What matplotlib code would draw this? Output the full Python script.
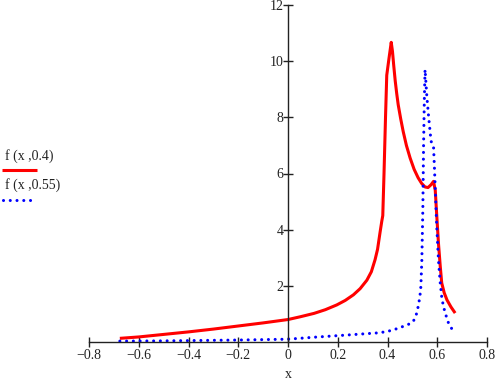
# -*- coding: utf-8 -*-
import matplotlib
matplotlib.use('Agg')
import matplotlib.pyplot as plt
from matplotlib.lines import Line2D

plt.rcParams['font.family'] = ['Liberation Serif', 'DejaVu Serif']

# f(x, 0.4)
red_x = [-0.676, -0.6, -0.5, -0.4, -0.3, -0.2, -0.1, 0.0, 0.05, 0.105, 0.15,
         0.196, 0.23, 0.263, 0.29, 0.317, 0.335, 0.35, 0.36, 0.37, 0.377,
         0.381, 0.386, 0.392, 0.397, 0.406, 0.415, 0.42, 0.425, 0.431, 0.437,
         0.443, 0.453, 0.463, 0.476, 0.491, 0.507, 0.523, 0.537, 0.551, 0.563,
         0.575, 0.585, 0.592, 0.598, 0.605, 0.612, 0.618, 0.628, 0.639, 0.655,
         0.672]
red_y = [0.13, 0.18, 0.27, 0.36, 0.46, 0.57, 0.68, 0.8, 0.9, 1.02, 1.15,
         1.32, 1.48, 1.68, 1.9, 2.2, 2.5, 2.93, 3.3, 3.9, 4.3,
         4.5, 6.0, 8.0, 9.5, 10.1, 10.67, 10.35, 9.85, 9.3, 8.85,
         8.45, 7.95, 7.5, 7.0, 6.55, 6.15, 5.85, 5.65, 5.52, 5.5,
         5.6, 5.72, 5.4, 4.5, 3.5, 2.7, 2.1, 1.75, 1.5, 1.25,
         1.03]

# f(x, 0.55)
blue_x = [-0.676, -0.5, -0.4, -0.2, 0.0, 0.105, 0.24, 0.37, 0.41, 0.444, 0.47,
          0.49, 0.503, 0.515, 0.523, 0.53, 0.534, 0.538, 0.542, 0.545, 0.548,
          0.551, 0.558, 0.565, 0.575, 0.585, 0.589, 0.594, 0.598, 0.605, 0.612,
          0.618, 0.625, 0.635, 0.645, 0.665]
blue_y = [0.03, 0.04, 0.05, 0.07, 0.1, 0.17, 0.25, 0.33, 0.4, 0.49, 0.58,
          0.65, 0.72, 0.95, 1.25, 1.6, 1.96, 2.9, 4.7, 7.0, 8.6,
          9.7, 8.76, 8.05, 7.15, 6.97, 6.14, 5.0, 4.1, 2.9, 2.1,
          1.6, 1.26, 0.95, 0.68, 0.37]

x_ticks = [-0.8, -0.6, -0.4, -0.2, 0, 0.2, 0.4, 0.6, 0.8]
x_labels = ['\u22120.8', '\u22120.6', '\u22120.4', '\u22120.2', '0', '0.2', '0.4', '0.6', '0.8']
y_ticks = [2, 4, 6, 8, 10, 12]

fig = plt.figure(figsize=(4.99, 3.82), dpi=100)
ax = fig.add_axes([89 / 499, 40 / 382, 398 / 499, 337 / 382])

red_style = dict(color='#ff0000', linewidth=2.2, solid_capstyle='butt',
                 solid_joinstyle='round')
blue_style = dict(color='#0000ff', linewidth=2.2, linestyle=(0, (0.01, 2.2)),
                  dash_capstyle='round')

ax.plot(red_x, red_y, **red_style)
ax.plot(blue_x, blue_y, **blue_style)

ax.set_xlim(-0.8, 0.8)
ax.set_ylim(0, 12)
ax.spines['left'].set_position(('data', 0))
ax.spines['bottom'].set_position(('data', 0))
ax.spines['top'].set_visible(False)
ax.spines['right'].set_visible(False)
for s in ('left', 'bottom'):
    ax.spines[s].set_color('#222222')
    ax.spines[s].set_linewidth(1.0)

ax.set_xticks(x_ticks)
ax.set_xticklabels(x_labels)
ax.set_yticks(y_ticks)
ax.tick_params(direction='inout', length=6.5, width=1.0, color='#222222',
               labelsize=10, labelcolor='#222222')
ax.tick_params(axis='y', pad=0)
ax.tick_params(axis='x', pad=2)
ax.set_xlabel('x', fontsize=10, color='#222222')
ax.xaxis.set_label_coords(0.5, -0.078)

# legend drawn by hand at the left side
fig.text(5 / 499, 1 - 156 / 382, 'f (x ,0.4)', fontsize=10, va='center', ha='left',
         color='#222222')
fig.add_artist(Line2D([2 / 499, 37 / 499], [1 - 170 / 382] * 2, **red_style))
fig.text(5 / 499, 1 - 185 / 382, 'f (x ,0.55)', fontsize=10, va='center', ha='left',
         color='#222222')
fig.add_artist(Line2D([3 / 499, 35 / 499], [1 - 200 / 382] * 2, **blue_style))

fig.savefig('out.png', dpi=100)
